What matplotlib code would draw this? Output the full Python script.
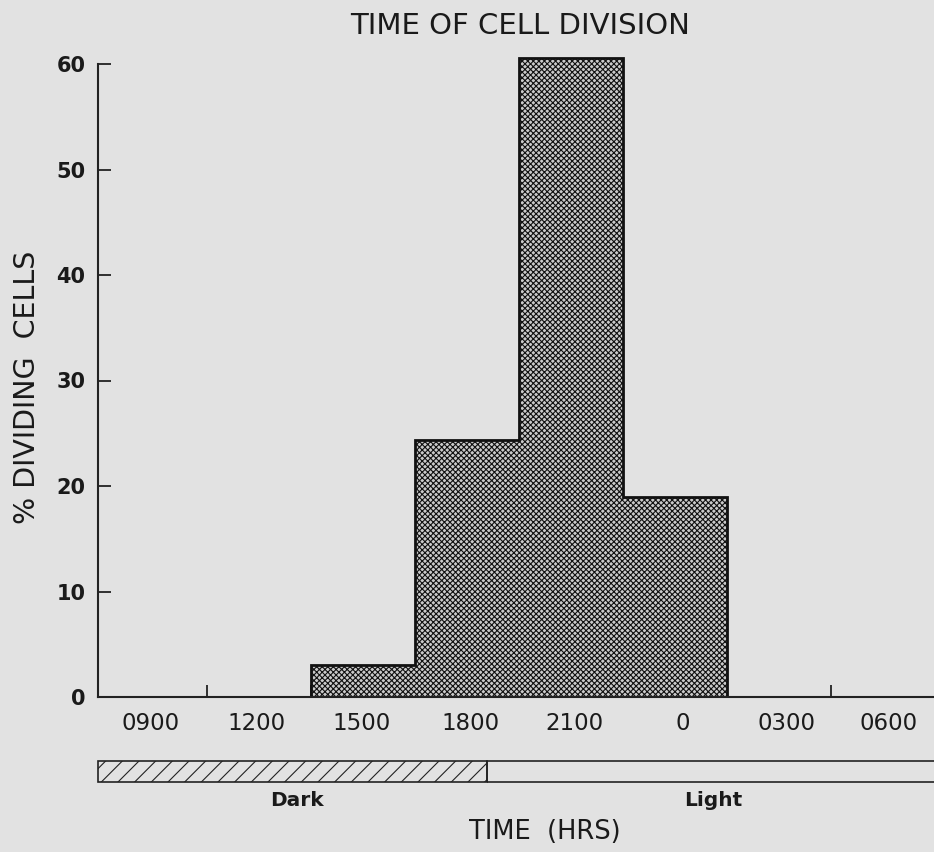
import matplotlib
matplotlib.use("Agg")
import matplotlib.pyplot as plt
from matplotlib.patches import Rectangle

# Data
time_labels = ["0900", "1200", "1500", "1800", "2100", "0", "0300", "0600"]
pct_dividing = [0, 0, 3.0, 24.4, 60.6, 19.0, 0, 0]
dark_end = 3.69          # end of dark period, in bin units
y_ticks = [0, 10, 20, 30, 40, 50, 60]

# Layout: label centres within each 3-hour bin, and bin boundary ticks
label_pos = [0.46, 1.48, 2.49, 3.53, 4.53, 5.57, 6.57, 7.55]
bin_edges = [1, 2, 3, 4, 5, 6, 7]

BG = "#e2e2e2"
INK = "#1a1a1a"
plt.rcParams["font.family"] = ["DejaVu Sans"]
plt.rcParams["hatch.linewidth"] = 0.8

fig = plt.figure(figsize=(9.34, 8.52), dpi=100, facecolor=BG)
ax = fig.add_axes([98 / 934, 1 - 697 / 852, 1 - 98 / 934, (697 - 64) / 852])
ax.set_facecolor(BG)

xmin, xmax = -0.048, 7.99

# Histogram drawn as one stepped outline over the occupied bins
nz = [i for i, v in enumerate(pct_dividing) if v > 0]
first, last = nz[0], nz[-1]
vals = pct_dividing[first:last + 1]
edges = list(range(first, last + 2))
ax.stairs(vals, edges, baseline=0, fill=True, facecolor="#cacaca",
          edgecolor="#111111", linewidth=2.0, hatch="xxxxxx",
          clip_on=False, zorder=2)

ax.set_xlim(xmin, xmax)
ax.set_ylim(0, 60)
for s in ("top", "right"):
    ax.spines[s].set_visible(False)
for s in ("left", "bottom"):
    ax.spines[s].set_linewidth(1.5)
    ax.spines[s].set_color("#222222")

ax.set_yticks(y_ticks)
ax.set_yticklabels([str(t) for t in y_ticks], fontweight="bold",
                   fontsize=15, color=INK)
ax.tick_params(axis="y", direction="in", length=9, width=1.3, pad=9,
               color="#222222")

ax.set_xticks(label_pos)
ax.set_xticklabels(time_labels, fontsize=16.5, color=INK)
ax.tick_params(axis="x", which="major", length=0, pad=11)
ax.set_xticks(bin_edges, minor=True)
ax.tick_params(axis="x", which="minor", direction="in", length=9,
               width=1.3, color="#222222")

fig.text(27 / 934, 1 - 387 / 852, "% DIVIDING  CELLS", rotation=90,
         ha="center", va="center", fontsize=20.5, color=INK)

fig.text(520 / 934, 1 - 26 / 852, "TIME OF CELL DIVISION", ha="center",
         va="center", fontsize=21, color=INK)

# Photoperiod strip
bx = fig.add_axes([98 / 934, 1 - 782 / 852, 1 - 98 / 934, 21 / 852])
bx.set_xlim(xmin, xmax)
bx.set_ylim(0, 1)
bx.axis("off")
bx.add_patch(Rectangle((xmin, 0), dark_end - xmin, 1, facecolor="none",
                       edgecolor="#222222", linewidth=1.2, hatch="//",
                       clip_on=False))
bx.add_patch(Rectangle((dark_end, 0), xmax - dark_end + 0.2, 1,
                       facecolor="none", edgecolor="#222222", linewidth=1.2,
                       clip_on=False))

fig.text(297 / 934, 1 - 800 / 852, "Dark", ha="center", va="center",
         fontweight="bold", fontsize=14.5, color=INK)
fig.text(713 / 934, 1 - 800 / 852, "Light", ha="center", va="center",
         fontweight="bold", fontsize=14.5, color=INK)
fig.text(545 / 934, 1 - 832 / 852, "TIME  (HRS)", ha="center", va="center",
         fontsize=18.5, color=INK)

fig.savefig("out.png", dpi=100, facecolor=BG)
